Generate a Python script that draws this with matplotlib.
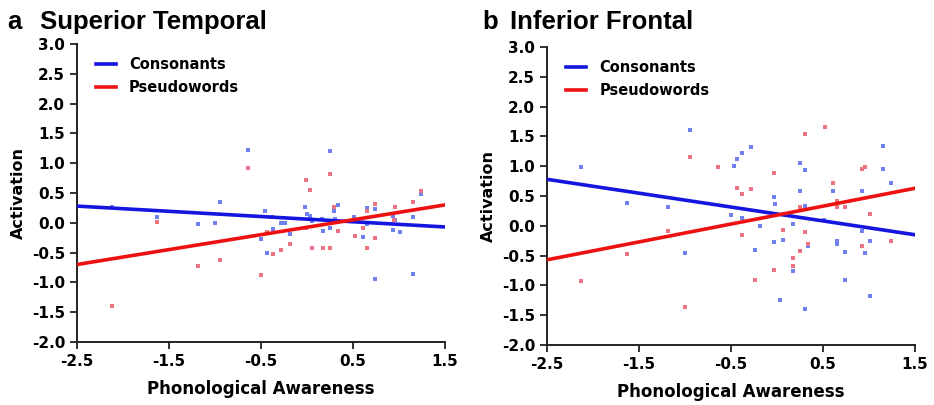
import numpy as np
import matplotlib
matplotlib.use("Agg")
import matplotlib.pyplot as plt

# ---- panel a: superior temporal ----
st_cons_x = [-2.12, -1.63, -1.18, -1.0, -0.95, -0.64, -0.50, -0.46, -0.43, -0.38, -0.37,
             -0.28, -0.24, -0.18, -0.02, 0.0, 0.03, 0.06, 0.16, 0.17, 0.25, 0.25, 0.29,
             0.30, 0.34, 0.51, 0.61, 0.65, 0.65, 0.74, 0.74, 0.93, 0.96, 0.93, 1.01,
             1.15, 1.15, 1.24]
st_cons_y = [0.27, 0.09, -0.02, -0.01, 0.35, 1.22, -0.27, 0.19, -0.50, 0.10, -0.11,
             -0.01, -0.01, -0.18, 0.26, 0.15, 0.12, 0.03, 0.06, -0.13, 1.21, -0.08, 0.19,
             0.06, 0.29, 0.10, -0.24, 0.24, -0.02, 0.23, -0.95, 0.11, 0.05, -0.12, -0.16,
             0.10, -0.86, 0.49]

st_pw_x = [-2.12, -1.63, -1.18, -0.95, -0.64, -0.50, -0.43, -0.37, -0.28, -0.18, -0.01,
           -0.01, 0.03, 0.06, 0.17, 0.25, 0.25, 0.29, 0.34, 0.52, 0.61, 0.65, 0.65,
           0.74, 0.74, 0.95, 0.96, 1.15, 1.24]
st_pw_y = [-1.39, 0.02, -0.72, -0.63, 0.92, -0.88, -0.16, -0.52, -0.46, -0.35, 0.71,
           -0.08, 0.55, -0.43, -0.43, -0.43, 0.82, 0.27, -0.13, -0.23, -0.08, -0.43, 0.20,
           0.32, -0.25, 0.05, 0.26, 0.35, 0.54]

st_fit_x = [-2.5, 1.5]
st_cons_fit = [0.28, -0.07]
st_pw_fit = [-0.70, 0.30]

# ---- panel b: inferior frontal ----
if_cons_x = [-2.13, -1.63, -1.18, -1.0, -0.95, -0.50, -0.47, -0.43, -0.38, -0.38, -0.28,
             -0.24, -0.18, -0.03, -0.02, -0.03, 0.03, 0.07, 0.17, 0.17, 0.25, 0.25, 0.30,
             0.30, 0.30, 0.34, 0.51, 0.61, 0.65, 0.65, 0.74, 0.74, 0.92, 0.92, 0.96,
             1.01, 1.01, 1.15, 1.15, 1.24]
if_cons_y = [0.98, 0.39, 0.32, -0.45, 1.61, 0.18, 1.00, 1.12, 1.23, 0.13, 1.33,
             -0.40, -0.01, 0.48, 0.36, -0.27, -1.25, -0.23, 0.03, -0.75, 1.05, 0.59, 0.94,
             0.34, -1.40, -0.34, 0.10, 0.59, -0.26, -0.31, -0.44, -0.91, 0.59, -0.08, -0.45,
             -0.26, -1.17, 1.34, 0.96, 0.72]

if_pw_x = [-2.13, -1.63, -1.18, -1.0, -0.95, -0.64, -0.43, -0.38, -0.38, -0.28, -0.24,
           -0.03, -0.03, 0.07, 0.17, 0.17, 0.25, 0.25, 0.30, 0.30, 0.34, 0.52, 0.61,
           0.65, 0.65, 0.74, 0.92, 0.96, 1.01, 0.92, 1.24]
if_pw_y = [-0.92, -0.48, -0.09, -1.36, 1.15, 0.98, 0.63, 0.54, -0.16, 0.62, -0.91,
           0.88, -0.74, -0.07, -0.54, -0.67, -0.42, 0.31, 1.54, -0.11, -0.31, 1.66, 0.72,
           0.41, 0.32, 0.31, 0.95, 0.98, 0.20, -0.34, -0.25]

if_fit_x = [-2.5, 1.5]
if_cons_fit = [0.78, -0.15]
if_pw_fit = [-0.57, 0.63]

x_ticks = [-2.5, -1.5, -0.5, 0.5, 1.5]
y_ticks = np.arange(-2.0, 3.01, 0.5)

BLUE = "#1515e0"
RED = "#ee1111"
BLUE_PT = "#7080ee"
RED_PT = "#ec7482"


def draw_panel(ax, cx, cy, px, py, fx, cfit, pfit):
    ax.scatter(cx, cy, marker="s", s=9, color=BLUE_PT, linewidths=0, zorder=2)
    ax.scatter(px, py, marker="s", s=9, color=RED_PT, linewidths=0, zorder=2)
    ax.plot(fx, cfit, color=BLUE, lw=2.6, label="Consonants", zorder=3)
    ax.plot(fx, pfit, color=RED, lw=2.6, label="Pseudowords", zorder=3)

    ax.set_xlim(-2.5, 1.5)
    ax.set_ylim(-2.0, 3.0)
    ax.set_xticks(x_ticks)
    ax.set_xticklabels([f"{t:.1f}" for t in x_ticks])
    ax.set_yticks(y_ticks)
    ax.set_yticklabels([f"{t:.1f}" for t in y_ticks])
    for s in ["top", "right"]:
        ax.spines[s].set_visible(False)
    for s in ["left", "bottom"]:
        ax.spines[s].set_linewidth(1.4)
        ax.spines[s].set_color("#222222")
    ax.tick_params(direction="out", length=5, width=1.3, color="#222222",
                   labelsize=11)
    for lab in ax.get_xticklabels() + ax.get_yticklabels():
        lab.set_fontweight("bold")
    ax.set_xlabel("Phonological Awareness", fontsize=12, fontweight="bold", labelpad=8)
    ax.set_ylabel("Activation", fontsize=11.5, fontweight="bold", labelpad=4)
    leg = ax.legend(loc="upper left", bbox_to_anchor=(0.016, 1.0), frameon=False,
                    handlelength=1.37, handletextpad=0.9, labelspacing=0.55,
                    prop={"weight": "bold", "size": 10.5})
    for line in leg.get_lines():
        line.set_linewidth(2.6)


fig = plt.figure(figsize=(9.34, 4.05), dpi=100)
ax1 = fig.add_axes([0.0824, 0.1556, 0.394, 0.7358])
ax2 = fig.add_axes([0.5857, 0.148, 0.394, 0.736])

draw_panel(ax1, st_cons_x, st_cons_y, st_pw_x, st_pw_y, st_fit_x, st_cons_fit, st_pw_fit)
draw_panel(ax2, if_cons_x, if_cons_y, if_pw_x, if_pw_y, if_fit_x, if_cons_fit, if_pw_fit)

title_font = {"family": "Liberation Sans", "weight": "bold", "size": 18.5}
fig.text(7 / 934, 1 - 29 / 405, "a", fontdict=title_font, va="baseline")
fig.text(40 / 934, 1 - 29 / 405, "Superior Temporal", fontdict=title_font, va="baseline")
fig.text(482 / 934, 1 - 29 / 405, "b", fontdict=title_font, va="baseline")
fig.text(510 / 934, 1 - 29 / 405, "Inferior Frontal", fontdict=title_font, va="baseline")

fig.savefig("out.png", dpi=100)
